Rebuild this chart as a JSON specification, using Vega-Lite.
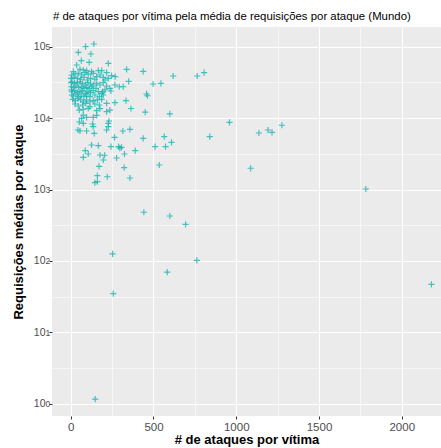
{
  "$schema": "https://vega.github.io/schema/vega-lite/v6.json",
  "width": 389,
  "height": 389,
  "autosize": {"type": "none"},
  "padding": {"left": 52, "top": 27, "right": 0, "bottom": 32},
  "background": "white",
  "title": {
    "text": "# de ataques por vítima pela média de requisições por ataque (Mundo)",
    "anchor": "start",
    "frame": "group",
    "dx": 1,
    "offset": 5,
    "fontSize": 11.4,
    "fontWeight": "normal",
    "font": "Liberation Sans",
    "color": "#000000"
  },
  "config": {
    "view": {"fill": "#EBEBEB", "stroke": null},
    "axis": {
      "domain": false,
      "gridColor": "#FFFFFF",
      "tickColor": "#333333",
      "tickSize": 3,
      "labelColor": "#4D4D4D",
      "labelFont": "Liberation Sans",
      "titleFont": "Liberation Sans",
      "titleColor": "#000000",
      "titleFontWeight": "bold",
      "titleFontSize": 13
    }
  },
  "data": {
    "values": [
      {"ataques": 36, "req": 55100}, {"ataques": 64, "req": 63400}, {"ataques": 112, "req": 60100},
      {"ataques": 56, "req": 48000}, {"ataques": 76, "req": 46900}, {"ataques": 16, "req": 44500},
      {"ataques": 96, "req": 45900}, {"ataques": 126, "req": 44500}, {"ataques": 167, "req": 45900},
      {"ataques": 187, "req": 45900}, {"ataques": 217, "req": 43100}, {"ataques": 247, "req": 39100},
      {"ataques": 269, "req": 37900}, {"ataques": 6, "req": 39950}, {"ataques": 26, "req": 41250},
      {"ataques": 46, "req": 42200}, {"ataques": 66, "req": 39900}, {"ataques": 86, "req": 43100},
      {"ataques": 106, "req": 40800}, {"ataques": 136, "req": 42200}, {"ataques": 157, "req": 37900},
      {"ataques": 177, "req": 39900}, {"ataques": 197, "req": 37100}, {"ataques": 227, "req": 35900},
      {"ataques": 2, "req": 35900}, {"ataques": 20, "req": 37100}, {"ataques": 40, "req": 35900},
      {"ataques": 60, "req": 34800}, {"ataques": 80, "req": 37100}, {"ataques": 100, "req": 34000},
      {"ataques": 120, "req": 35900}, {"ataques": 146, "req": 34800}, {"ataques": 207, "req": 34000},
      {"ataques": 3, "req": 31200}, {"ataques": 8, "req": 32200}, {"ataques": 24, "req": 30500},
      {"ataques": 40, "req": 31200}, {"ataques": 56, "req": 32200}, {"ataques": 72, "req": 30500},
      {"ataques": 88, "req": 29000}, {"ataques": 104, "req": 31200}, {"ataques": 120, "req": 29900},
      {"ataques": 136, "req": 29000}, {"ataques": 157, "req": 30500}, {"ataques": 177, "req": 29000},
      {"ataques": 197, "req": 31200}, {"ataques": 217, "req": 28000}, {"ataques": 237, "req": 26000},
      {"ataques": 4, "req": 27400}, {"ataques": 16, "req": 26800}, {"ataques": 32, "req": 28000},
      {"ataques": 48, "req": 26800}, {"ataques": 64, "req": 27400}, {"ataques": 80, "req": 26000},
      {"ataques": 96, "req": 26800}, {"ataques": 112, "req": 26000}, {"ataques": 128, "req": 27400},
      {"ataques": 153, "req": 26000}, {"ataques": 207, "req": 24700}, {"ataques": 5, "req": 24700},
      {"ataques": 8, "req": 23400}, {"ataques": 24, "req": 24100}, {"ataques": 40, "req": 22600},
      {"ataques": 56, "req": 23400}, {"ataques": 72, "req": 24100}, {"ataques": 88, "req": 22100},
      {"ataques": 104, "req": 23400}, {"ataques": 120, "req": 22600}, {"ataques": 136, "req": 24100},
      {"ataques": 167, "req": 23400}, {"ataques": 187, "req": 22100}, {"ataques": 7, "req": 21000},
      {"ataques": 16, "req": 20300}, {"ataques": 32, "req": 21700}, {"ataques": 48, "req": 19900},
      {"ataques": 64, "req": 21000}, {"ataques": 80, "req": 19900}, {"ataques": 96, "req": 21000},
      {"ataques": 116, "req": 19900}, {"ataques": 146, "req": 21000}, {"ataques": 173, "req": 19900},
      {"ataques": 197, "req": 21000}, {"ataques": 12, "req": 18200}, {"ataques": 28, "req": 17500},
      {"ataques": 44, "req": 18800}, {"ataques": 60, "req": 17900}, {"ataques": 76, "req": 16900},
      {"ataques": 96, "req": 17900}, {"ataques": 116, "req": 16900}, {"ataques": 136, "req": 17500},
      {"ataques": 161, "req": 17900}, {"ataques": 187, "req": 18200}, {"ataques": 26, "req": 15700},
      {"ataques": 46, "req": 14700}, {"ataques": 72, "req": 15200}, {"ataques": 92, "req": 16000},
      {"ataques": 116, "req": 14400}, {"ataques": 146, "req": 15700}, {"ataques": 173, "req": 15200},
      {"ataques": 217, "req": 16000}, {"ataques": 52, "req": 12900}, {"ataques": 76, "req": 13200},
      {"ataques": 106, "req": 13600}, {"ataques": 157, "req": 12700}, {"ataques": 177, "req": 13500},
      {"ataques": 237, "req": 12900}, {"ataques": 217, "req": 12300}, {"ataques": 76, "req": 11000},
      {"ataques": 66, "req": 9890}, {"ataques": 76, "req": 8420}, {"ataques": 52, "req": 8790},
      {"ataques": 96, "req": 10200}, {"ataques": 136, "req": 10200}, {"ataques": 157, "req": 10900},
      {"ataques": 132, "req": 8240}, {"ataques": 136, "req": 7560}, {"ataques": 227, "req": 8420},
      {"ataques": 227, "req": 7560}, {"ataques": 217, "req": 6800}, {"ataques": 231, "req": 9080},
      {"ataques": 44, "req": 6800}, {"ataques": 56, "req": 6580}, {"ataques": 96, "req": 6580},
      {"ataques": 142, "req": 6110},
      {"ataques": 140, "req": 108400}, {"ataques": 90, "req": 99600}, {"ataques": 46, "req": 82800},
      {"ataques": 122, "req": 78500}, {"ataques": 227, "req": 58200}, {"ataques": 338, "req": 48000},
      {"ataques": 438, "req": 45000}, {"ataques": 619, "req": 38700}, {"ataques": 764, "req": 38700},
      {"ataques": 806, "req": 43100}, {"ataques": 498, "req": 29900}, {"ataques": 545, "req": 30500},
      {"ataques": 458, "req": 21700}, {"ataques": 464, "req": 20500}, {"ataques": 350, "req": 32600},
      {"ataques": 267, "req": 29000}, {"ataques": 293, "req": 27400}, {"ataques": 317, "req": 27400},
      {"ataques": 243, "req": 23900}, {"ataques": 193, "req": 23400}, {"ataques": 267, "req": 16400},
      {"ataques": 334, "req": 17500}, {"ataques": 364, "req": 13600}, {"ataques": 450, "req": 12100},
      {"ataques": 599, "req": 11400}, {"ataques": 959, "req": 8700}, {"ataques": 840, "req": 5480},
      {"ataques": 565, "req": 5480}, {"ataques": 438, "req": 5200}, {"ataques": 609, "req": 4570},
      {"ataques": 510, "req": 3970}, {"ataques": 573, "req": 3970}, {"ataques": 390, "req": 3490},
      {"ataques": 358, "req": 6950}, {"ataques": 315, "req": 6580}, {"ataques": 265, "req": 5370},
      {"ataques": 243, "req": 3970}, {"ataques": 289, "req": 3970}, {"ataques": 297, "req": 3800},
      {"ataques": 307, "req": 3890}, {"ataques": 325, "req": 3140}, {"ataques": 277, "req": 2760},
      {"ataques": 205, "req": 3010}, {"ataques": 197, "req": 2590}, {"ataques": 171, "req": 2110},
      {"ataques": 177, "req": 3040}, {"ataques": 167, "req": 4100}, {"ataques": 126, "req": 4190},
      {"ataques": 88, "req": 3490}, {"ataques": 106, "req": 3140}, {"ataques": 76, "req": 2820},
      {"ataques": 323, "req": 2020}, {"ataques": 358, "req": 1450}, {"ataques": 535, "req": 2200},
      {"ataques": 221, "req": 1510}, {"ataques": 161, "req": 1560}, {"ataques": 146, "req": 1250},
      {"ataques": 161, "req": 1290},
      {"ataques": 1137, "req": 6170}, {"ataques": 1192, "req": 6790}, {"ataques": 1216, "req": 6310},
      {"ataques": 1276, "req": 7910}, {"ataques": 1087, "req": 1980}, {"ataques": 1783, "req": 1016},
      {"ataques": 442, "req": 480}, {"ataques": 599, "req": 426}, {"ataques": 694, "req": 326},
      {"ataques": 253, "req": 126}, {"ataques": 762, "req": 102}, {"ataques": 583, "req": 70},
      {"ataques": 257, "req": 35}, {"ataques": 2179, "req": 47}, {"ataques": 148, "req": 1.17}
    ]
  },
  "layer": [
    {
      "mark": {
        "type": "point",
        "shape": "M-1,0H1M0,-1V1",
        "filled": false,
        "size": 38,
        "strokeWidth": 1.15,
        "color": "#1AB3B3",
        "opacity": 0.8,
        "clip": true
      },
      "encoding": {
        "x": {
          "field": "ataques",
          "type": "quantitative",
          "scale": {"domain": [-113, 2237], "nice": false, "zero": false},
          "axis": {
            "title": "# de ataques por vítima",
            "values": [0, 250, 500, 750, 1000, 1250, 1500, 1750, 2000],
            "labelExpr": "datum.value % 500 === 0 ? format(datum.value, 'd') : ''",
            "labelFontSize": 11.5,
            "labelPadding": 2,
            "titlePadding": 1,
            "gridWidth": {"condition": {"test": "datum.value % 500 === 0", "value": 1.1}, "value": 0.55},
            "tickOpacity": {"condition": {"test": "datum.value % 500 === 0", "value": 1}, "value": 0}
          }
        },
        "y": {
          "field": "req",
          "type": "quantitative",
          "scale": {"type": "log", "domain": [0.679, 187500], "nice": false},
          "axis": {
            "orient": "left",
            "title": "Requisições médias por ataque",
            "values": [1, 3.1623, 10, 31.623, 100, 316.23, 1000, 3162.3, 10000, 31623, 100000],
            "labelExpr": "abs(log(datum.value)/LN10 - round(log(datum.value)/LN10)) < 0.01 ? '10' : ''",
            "labelFontSize": 10.5,
            "labelPadding": 4,
            "titlePadding": 8,
            "gridWidth": {"condition": {"test": "abs(log(datum.value)/LN10 - round(log(datum.value)/LN10)) < 0.01", "value": 1.1}, "value": 0.55},
            "tickOpacity": {"condition": {"test": "abs(log(datum.value)/LN10 - round(log(datum.value)/LN10)) < 0.01", "value": 1}, "value": 0}
          }
        }
      }
    },
    {
      "mark": {"type": "point", "opacity": 0, "clip": true},
      "encoding": {
        "x": {"field": "ataques", "type": "quantitative"},
        "y": {
          "field": "req",
          "type": "quantitative",
          "axis": {
            "orient": "left",
            "title": null,
            "grid": false,
            "ticks": false,
            "values": [1, 10, 100, 1000, 10000, 100000],
            "labelExpr": "format(round(log(datum.value)/LN10), 'd')",
            "labelFontSize": 8.5,
            "labelAlign": "left",
            "labelPadding": 7,
            "labelDy": -5
          }
        }
      }
    }
  ],
  "resolve": {"axis": {"y": "independent"}}
}
